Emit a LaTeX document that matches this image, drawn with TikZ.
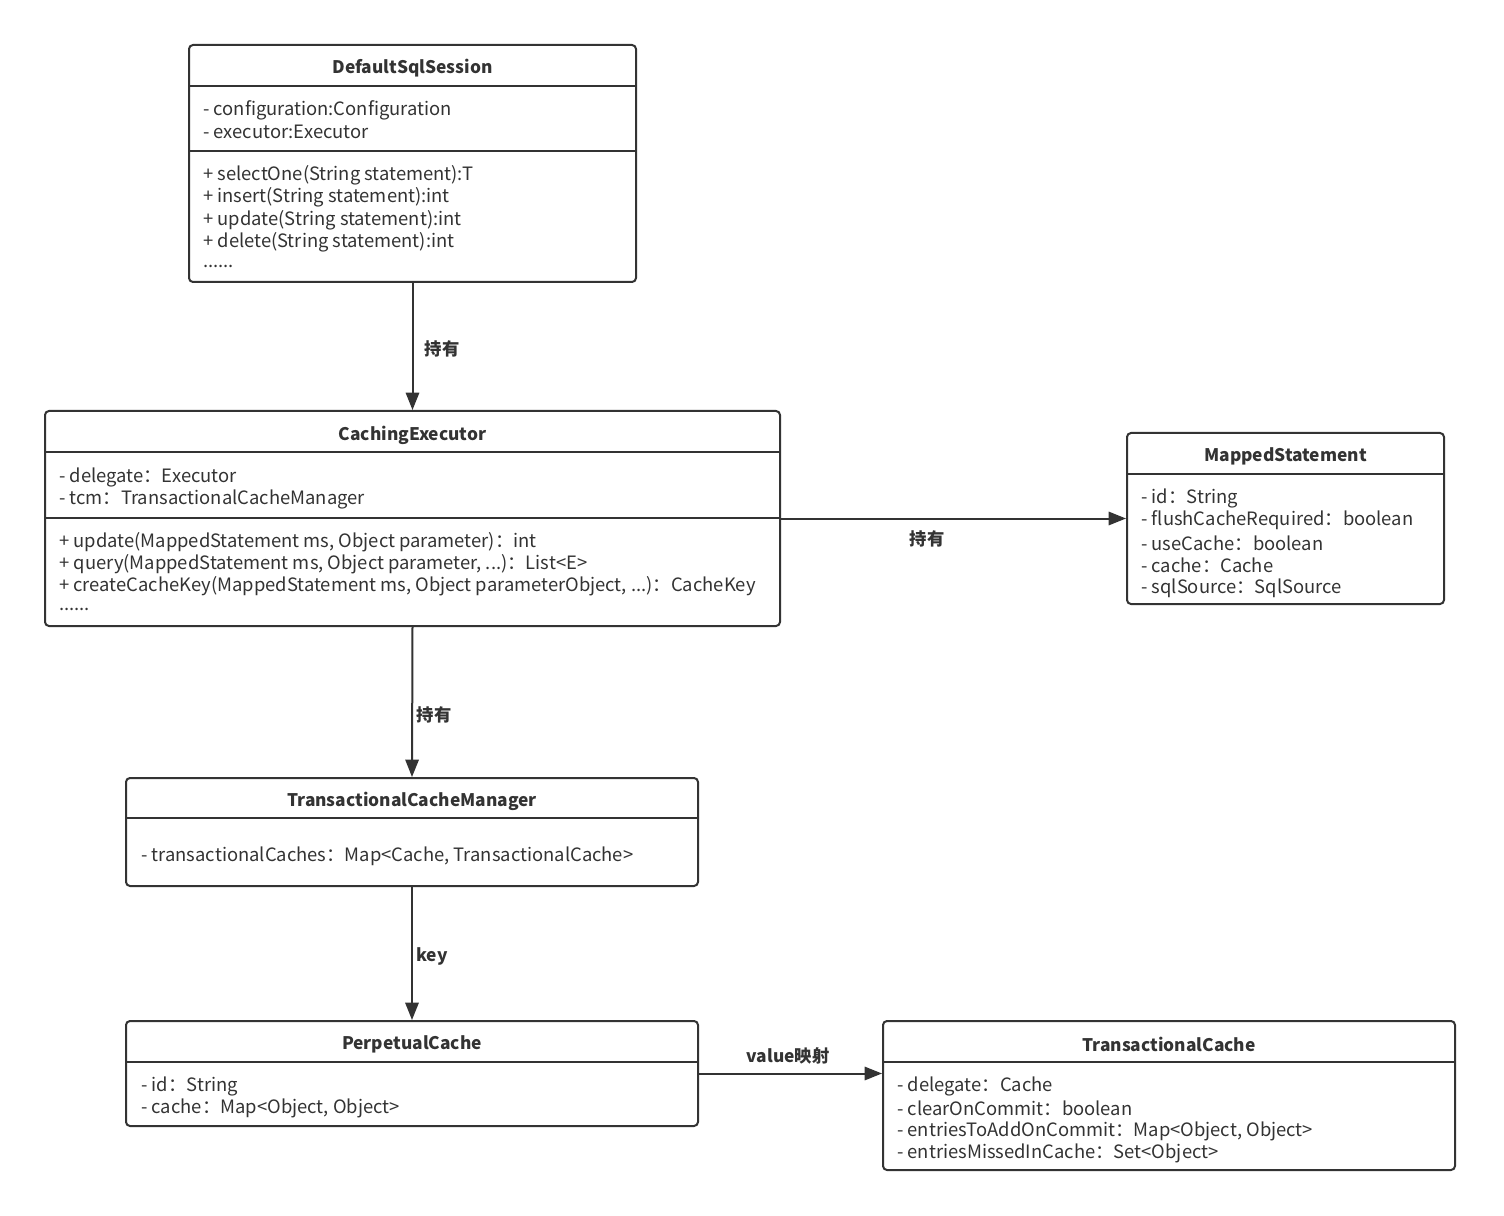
\documentclass[tikz,border=0pt]{standalone}
\usepackage{fontspec}
\setmainfont{Noto Sans CJK SC}
\usetikzlibrary{arrows.meta}
\definecolor{ln}{HTML}{333333}
\begin{document}
\begin{tikzpicture}[x=0.75pt,y=-0.75pt,
  box/.style={draw=ln,line width=1.5pt,rounded corners=3pt,inner sep=0pt,fill=white},
  attr/.style={anchor=west,inner sep=0pt,yshift=-1.5pt,font=\fontsize{13.8}{16}\selectfont,text=ln},
  ttl/.style={inner sep=0pt,yshift=-1.5pt,font=\fontsize{13}{15}\selectfont\bfseries,text=ln},
  lbl/.style={inner sep=0pt,yshift=-1pt,font=\fontsize{13}{15}\selectfont\bfseries,text=ln},
  conn/.style={draw=ln,line width=1.5pt,-{Triangle[length=13pt,width=10pt]}},
  div/.style={draw=ln,line width=1.5pt}]
\fill[white] (0,0) rectangle (1504,1216);
\useasboundingbox (0,0) rectangle (1504,1216);
% DefaultSqlSession
\node[box,minimum width=335.25pt,minimum height=177.75pt] (dss) at (412.5,163.5) {};
\draw[div] (dss.west |- 0,86) -- (dss.east |- 0,86);
\draw[div] (dss.west |- 0,151) -- (dss.east |- 0,151);
\node[ttl] (dsst) at (412.5,66) {DefaultSqlSession};
\node[attr] (dssa1) at (203,108) {- configuration:Configuration};
\node[attr] (dssa2) at (203,130) {- executor:Executor};
\node[attr] (dssm1) at (203,173) {+ selectOne(String statement):T};
\node[attr] (dssm2) at (203,195) {+ insert(String statement):int};
\node[attr] (dssm3) at (203,218) {+ update(String statement):int};
\node[attr] (dssm4) at (203,240) {+ delete(String statement):int};
\node[attr] (dssm5) at (203,264) {......};
% CachingExecutor
\node[box,minimum width=551.25pt,minimum height=161.25pt] (ce) at (412.5,518.5) {};
\draw[div] (ce.west |- 0,452) -- (ce.east |- 0,452);
\draw[div] (ce.west |- 0,518) -- (ce.east |- 0,518);
\node[ttl] (cet) at (412.5,433) {CachingExecutor};
\node[attr] (cea1) at (59,475) {- delegate：Executor};
\node[attr] (cea2) at (59,497) {- tcm：TransactionalCacheManager};
\node[attr] (cem1) at (59,540) {+ update(MappedStatement ms, Object parameter)：int};
\node[attr] (cem2) at (59,562) {+ query(MappedStatement ms, Object parameter, ...)：List<E>};
\node[attr] (cem3) at (59,584) {+ createCacheKey(MappedStatement ms, Object parameterObject, ...)：CacheKey};
\node[attr] (cem4) at (59,607) {......};
% MappedStatement
\node[box,minimum width=237.75pt,minimum height=128.25pt] (ms) at (1285.5,518.5) {};
\draw[div] (ms.west |- 0,474) -- (ms.east |- 0,474);
\node[ttl] (mst) at (1285.5,454) {MappedStatement};
\node[attr] (msa1) at (1141,496) {- id：String};
\node[attr] (msa2) at (1141,518) {- flushCacheRequired：boolean};
\node[attr] (msa3) at (1141,541) {- useCache：boolean};
\node[attr] (msa4) at (1141,563) {- cache：Cache};
\node[attr] (msa5) at (1141,586) {- sqlSource：SqlSource};
% TransactionalCacheManager
\node[box,minimum width=429pt,minimum height=81pt] (tcm) at (412,832) {};
\draw[div] (tcm.west |- 0,818) -- (tcm.east |- 0,818);
\node[ttl] (tcmt) at (412,799) {TransactionalCacheManager};
\node[attr] (tcma1) at (141,854) {- transactionalCaches：Map<Cache, TransactionalCache>};
% PerpetualCache
\node[box,minimum width=429pt,minimum height=78.75pt] (pc) at (412,1073.5) {};
\draw[div] (pc.west |- 0,1062) -- (pc.east |- 0,1062);
\node[ttl] (pct) at (412,1042) {PerpetualCache};
\node[attr] (pca1) at (141,1084) {- id：String};
\node[attr] (pca2) at (141,1106) {- cache：Map<Object, Object>};
% TransactionalCache
\node[box,minimum width=429pt,minimum height=111.75pt] (tc) at (1169,1095.5) {};
\draw[div] (tc.west |- 0,1062) -- (tc.east |- 0,1062);
\node[ttl] (tct) at (1169,1042) {TransactionalCache};
\node[attr] (tca1) at (897,1084) {- delegate：Cache};
\node[attr] (tca2) at (897,1106) {- clearOnCommit：boolean};
\node[attr] (tca3) at (897,1129) {- entriesToAddOnCommit：Map<Object, Object>};
\node[attr] (tca4) at (897,1151) {- entriesMissedInCache：Set<Object>};
% connectors
\draw[conn] (dss.south) -- (ce.north);
\node[lbl] (l1) at (442,348) {持有};
\draw[conn] (ce.east) -- (ms.west);
\node[lbl] (l2) at (927,538) {持有};
\draw[conn] (ce.south) -- (tcm.north);
\node[lbl] (l3) at (434,714) {持有};
\draw[conn] (tcm.south) -- (pc.north);
\node[lbl] (l4) at (432,955) {key};
\draw[conn] (pc.east) -- (tc.west |- pc.east);
\node[lbl] (l5) at (788,1055) {value映射};
\end{tikzpicture}
\end{document}
